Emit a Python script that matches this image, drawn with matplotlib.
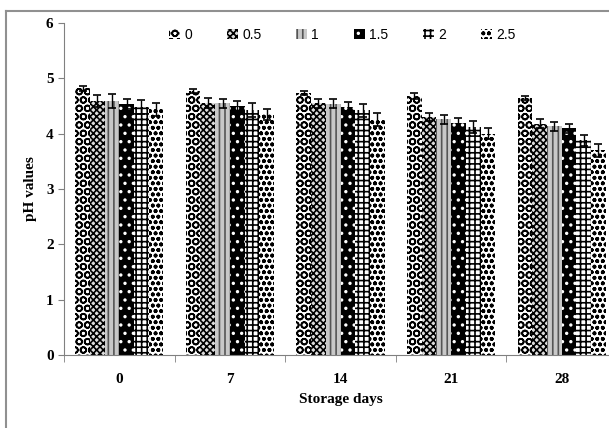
import matplotlib
matplotlib.use("Agg")
import matplotlib.pyplot as plt
import numpy as np
from matplotlib.lines import Line2D

days = ["0", "7", "14", "21", "28"]
series = ["0", "0.5", "1", "1.5", "2", "2.5"]
values = {
    "0":   [4.82, 4.77, 4.74, 4.68, 4.64],
    "0.5": [4.59, 4.56, 4.55, 4.30, 4.18],
    "1":   [4.59, 4.55, 4.54, 4.26, 4.13],
    "1.5": [4.54, 4.50, 4.49, 4.20, 4.10],
    "2":   [4.48, 4.43, 4.42, 4.12, 3.88],
    "2.5": [4.44, 4.35, 4.26, 4.00, 3.70],
}
errors = {
    "0":   [0.04, 0.04, 0.04, 0.05, 0.04],
    "0.5": [0.10, 0.09, 0.08, 0.08, 0.08],
    "1":   [0.12, 0.08, 0.08, 0.08, 0.08],
    "1.5": [0.09, 0.09, 0.08, 0.09, 0.08],
    "2":   [0.12, 0.13, 0.12, 0.10, 0.10],
    "2.5": [0.12, 0.10, 0.12, 0.10, 0.12],
}

styles = {
    "0":   dict(facecolor="white", edgecolor="black", hatch="OO"),
    "0.5": dict(facecolor="#dddddd", edgecolor="black", hatch="xxxxx"),
    "1":   dict(facecolor="#c8c8c8", edgecolor="#555555", hatch="|||"),
    "1.5": dict(facecolor="black", edgecolor="white", hatch=".."),
    "2":   dict(facecolor="white", edgecolor="black", hatch="+++"),
    "2.5": dict(facecolor="white", edgecolor="black", hatch="ooo"),
}

plt.rcParams["hatch.linewidth"] = 1.2
fig = plt.figure(figsize=(6.09, 4.28), dpi=100)
frame_x = 5.5 / 609
frame_y = 1 - 10.5 / 428
fig.add_artist(Line2D([frame_x, 1.0], [frame_y, frame_y], transform=fig.transFigure,
                      color="#909090", linewidth=1.5))
fig.add_artist(Line2D([frame_x, frame_x], [0.0, frame_y], transform=fig.transFigure,
                      color="#909090", linewidth=1.5))
ax = fig.add_axes([64/609, (428-355)/428, 553/609, 332/428])

x = np.arange(len(days))
w = 0.133
n = len(series)
for i, s in enumerate(series):
    pos = x + (i - (n - 1) / 2) * w
    ax.bar(pos, values[s], width=w, linewidth=0, **styles[s], label=s)
    ax.errorbar(pos, values[s], yerr=errors[s], fmt="none", ecolor="black",
                elinewidth=1, capsize=3, capthick=1.2)

ax.set_xlim(-0.5, 4.5)
ax.set_ylim(0, 6)
ax.set_yticks(range(0, 7))
ax.set_xticks(x)
ax.set_xticklabels(days)
ax.set_xticks(np.arange(-0.5, 4.6, 1), minor=True)
ax.tick_params(axis="x", which="major", length=0, pad=13)
ax.tick_params(axis="x", which="minor", length=5, color="#808080", direction="out")
ax.tick_params(axis="y", length=4, color="#808080", direction="out")
for lab in ax.get_xticklabels() + ax.get_yticklabels():
    lab.set_fontfamily("Liberation Serif")
    lab.set_fontweight("bold")
    lab.set_fontsize(11)
for sp in ["top", "right"]:
    ax.spines[sp].set_visible(False)
for sp in ["left", "bottom"]:
    ax.spines[sp].set_color("#808080")

ax.set_ylabel("pH values", fontfamily="Liberation Serif", fontweight="bold", fontsize=11, labelpad=6)
ax.set_xlabel("Storage days", fontfamily="Liberation Serif", fontweight="bold", fontsize=11, labelpad=5)

leg = ax.legend(ncol=6, loc="center", bbox_to_anchor=(0.503, (355-35)/332),
                frameon=False, handlelength=0.8, handleheight=0.8, handletextpad=0.3,
                columnspacing=2.5, prop={"family": ["Liberation Sans Narrow", "Liberation Sans"], "size": 10})

fig.savefig("out.png", dpi=100)
